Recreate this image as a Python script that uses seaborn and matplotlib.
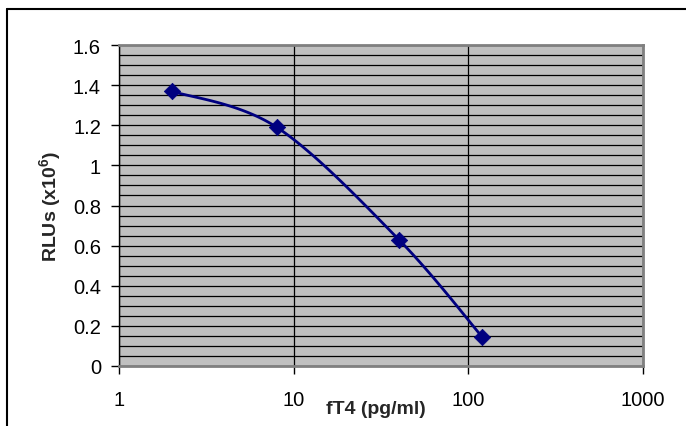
import numpy as np
import pandas as pd
import matplotlib
matplotlib.use("Agg")
import matplotlib.pyplot as plt
import matplotlib.ticker as mticker
from matplotlib.lines import Line2D
import seaborn as sns

# values
ft4 = [2, 8, 40, 120]                # pg/ml
rlus = [1.37, 1.19, 0.63, 0.145]     # x10^6
x_ticks = [1, 10, 100, 1000]
y_ticks = [0, 0.2, 0.4, 0.6, 0.8, 1.0, 1.2, 1.4, 1.6]

sns.set_style("ticks")
plt.rcParams["font.family"] = ["Liberation Sans", "DejaVu Sans"]
plt.rcParams["mathtext.fontset"] = "custom"
plt.rcParams["mathtext.rm"] = "Liberation Sans"
plt.rcParams["mathtext.bf"] = "Liberation Sans:bold"

df = pd.DataFrame({"ft4": ft4, "rlus": rlus})


def excel_smooth(xs, ys, sx, sy, n=40):
    # Excel-like smoothed line: cubic Bezier with Catmull-Rom control points,
    # computed in screen-like units (log x, linear y)
    u = np.log10(np.asarray(xs, float)) * sx
    v = np.asarray(ys, float) * sy
    pts = np.column_stack([u, v])
    out = []
    t = np.linspace(0, 1, n)[:, None]
    for i in range(len(pts) - 1):
        p0 = pts[max(i - 1, 0)]
        p1 = pts[i]
        p2 = pts[i + 1]
        p3 = pts[min(i + 2, len(pts) - 1)]
        c1 = p1 + (p2 - p0) / 6.0
        c2 = p2 - (p3 - p1) / 6.0
        seg = ((1 - t) ** 3) * p1 + 3 * ((1 - t) ** 2) * t * c1 \
            + 3 * (1 - t) * t ** 2 * c2 + t ** 3 * p2
        out.append(seg if i == 0 else seg[1:])
    out = np.vstack(out)
    return 10 ** (out[:, 0] / sx), out[:, 1] / sy


fig = plt.figure(figsize=(6.86, 4.27), dpi=100)
ax = fig.add_axes([119 / 686, 60 / 427, 524 / 686, 321 / 427])
ax.set_facecolor("#c0c0c0")

ax.set_xscale("log")
ax.set_xlim(1, 1000)
ax.set_ylim(0, 1.6)

# gridlines: every 0.05 horizontally, decades vertically
ax.yaxis.set_minor_locator(mticker.MultipleLocator(0.05))
ax.set_yticks(y_ticks)
ax.set_xticks(x_ticks)
ax.xaxis.set_minor_locator(mticker.NullLocator())
ax.xaxis.set_major_formatter(mticker.FuncFormatter(lambda v, p: f"{v:g}"))
ax.yaxis.set_major_formatter(mticker.FuncFormatter(lambda v, p: f"{v:g}"))
ax.grid(which="both", axis="y", color="black", linewidth=0.9)
ax.grid(which="major", axis="x", color="black", linewidth=0.9)
ax.set_axisbelow(True)

# smoothed curve + markers
cx, cy = excel_smooth(ft4, rlus, 175.0, 321 / 1.6)
ax.plot(cx, cy, color="#000080", linewidth=2, zorder=3)
sns.scatterplot(data=df, x="ft4", y="rlus", marker="D", s=70,
                color="#000080", edgecolor="#000080", linewidth=0.5,
                ax=ax, zorder=4, clip_on=False)

for side in ["top", "right", "bottom"]:
    ax.spines[side].set_color("#808080")
    ax.spines[side].set_linewidth(2)
ax.spines["left"].set_color("black")
ax.spines["left"].set_linewidth(1)

ax.tick_params(axis="both", which="major", direction="out", length=6,
               width=1, color="black", labelsize=14.5, labelcolor="black")
ax.tick_params(axis="y", which="minor", length=0)
ax.tick_params(axis="x", pad=11)
ax.tick_params(axis="y", pad=7)

ax.set_xlabel("fT4 (pg/ml)", fontsize=14, fontweight="bold")
ax.xaxis.set_label_coords(0.49, -0.105)
ax.set_ylabel(r"RLUs (x10$^{\mathbf{6}}$)", fontsize=14,
              fontweight="bold", va="center")
ax.yaxis.set_label_coords(-0.13, 0.5)

# outer chart frame (only left and top edges visible)
fig.add_artist(Line2D([7 / 686, 7 / 686], [0, 1 - 10 / 427],
                      transform=fig.transFigure, color="black", linewidth=1.5))
fig.add_artist(Line2D([7 / 686, 1], [1 - 10 / 427, 1 - 10 / 427],
                      transform=fig.transFigure, color="black", linewidth=1.5))

fig.savefig("out.png", dpi=100)
plt.close(fig)
